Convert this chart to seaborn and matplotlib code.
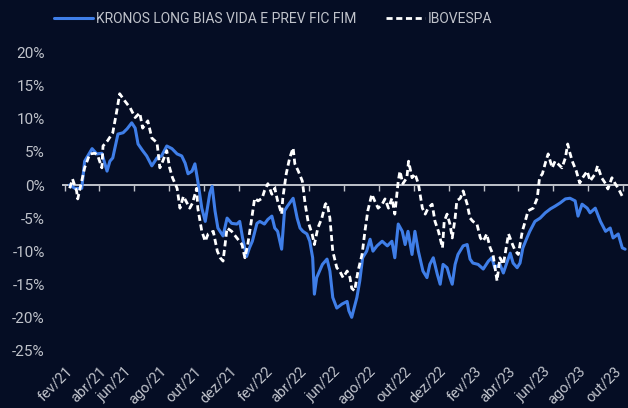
import matplotlib
matplotlib.use("Agg")
import matplotlib.pyplot as plt
import matplotlib.dates as mdates
from matplotlib.ticker import FuncFormatter
import pandas as pd
import seaborn as sns

# Data (cumulative return, %)
kronos_dates = [
    "2021-02-09", "2021-02-18", "2021-03-02", "2021-03-07", "2021-03-20", "2021-03-28",
    "2021-04-06", "2021-04-15", "2021-04-20", "2021-04-25", "2021-05-04", "2021-05-13",
    "2021-05-20", "2021-05-28", "2021-06-03", "2021-06-08", "2021-06-16", "2021-06-23",
    "2021-07-02", "2021-07-11", "2021-07-19", "2021-07-28", "2021-08-06", "2021-08-15",
    "2021-08-23", "2021-08-29", "2021-09-03", "2021-09-10", "2021-09-15", "2021-09-20",
    "2021-09-27", "2021-10-03", "2021-10-11", "2021-10-15", "2021-10-20", "2021-10-25",
    "2021-11-03", "2021-11-10", "2021-11-18", "2021-11-27", "2021-12-02", "2021-12-07",
    "2021-12-14", "2021-12-19", "2021-12-24", "2022-01-01", "2022-01-06", "2022-01-14",
    "2022-01-20", "2022-01-27", "2022-02-01", "2022-02-06", "2022-02-13", "2022-02-18",
    "2022-02-23", "2022-03-05", "2022-03-12", "2022-03-17", "2022-03-22", "2022-03-29",
    "2022-04-03", "2022-04-08", "2022-04-11", "2022-04-15", "2022-04-20", "2022-04-25",
    "2022-05-03", "2022-05-08", "2022-05-13", "2022-05-20", "2022-05-29", "2022-06-07",
    "2022-06-10", "2022-06-15", "2022-06-24", "2022-06-29", "2022-07-04", "2022-07-11",
    "2022-07-17", "2022-07-22", "2022-07-29", "2022-08-07", "2022-08-16", "2022-08-24",
    "2022-08-29", "2022-09-04", "2022-09-11", "2022-09-16", "2022-09-21", "2022-09-28",
    "2022-10-03", "2022-10-09", "2022-10-17", "2022-10-24", "2022-10-29", "2022-11-04",
    "2022-11-11", "2022-11-16", "2022-11-21", "2022-11-28", "2022-12-03", "2022-12-07",
    "2022-12-12", "2022-12-17", "2022-12-26", "2023-01-02", "2023-01-07", "2023-01-12",
    "2023-01-21", "2023-01-30", "2023-02-08", "2023-02-14", "2023-02-19", "2023-02-28",
    "2023-03-06", "2023-03-13", "2023-03-18", "2023-03-23", "2023-03-30", "2023-04-04",
    "2023-04-09", "2023-04-16", "2023-04-21", "2023-04-30", "2023-05-09", "2023-05-18",
    "2023-05-27", "2023-06-04", "2023-06-13", "2023-06-22", "2023-06-30", "2023-07-09",
    "2023-07-14", "2023-07-21", "2023-07-30", "2023-08-04", "2023-08-13", "2023-08-22",
    "2023-08-31", "2023-09-08", "2023-09-13", "2023-09-22", "2023-09-29", "2023-10-04",
]
kronos_values = [
    0.0, -0.5, -0.5, 3.6, 5.5, 4.7,
    4.8, 2.1, 3.6, 4.1, 7.7, 7.9,
    8.5, 9.4, 8.6, 6.2, 5.2, 4.4,
    2.9, 4.1, 4.4, 5.9, 5.5, 4.7,
    4.4, 3.3, 1.7, 2.1, 3.2, 0.6,
    -3.5, -5.5, -1.2, -0.2, -3.9, -6.5,
    -7.7, -5.0, -5.8, -5.9, -5.5, -8.0,
    -10.8, -9.5, -8.5, -5.8, -5.5, -5.9,
    -5.2, -4.7, -6.5, -7.0, -9.7, -3.9,
    -3.2, -2.0, -5.0, -6.5, -7.0, -7.4,
    -8.5, -11.0, -16.5, -14.0, -13.0, -12.0,
    -11.2, -13.0, -17.0, -18.6, -18.0, -17.6,
    -19.0, -20.0, -17.0, -14.5, -11.0, -10.0,
    -8.2, -10.0, -9.2, -8.5, -9.2, -8.5,
    -11.0, -5.9, -7.0, -9.0, -7.0, -10.5,
    -7.0, -10.0, -13.0, -14.0, -12.0, -11.0,
    -13.5, -15.0, -12.0, -12.5, -14.0, -15.0,
    -12.0, -10.5, -9.2, -9.0, -11.2, -11.8,
    -12.0, -12.7, -11.5, -11.0, -12.5, -12.0,
    -13.3, -11.5, -10.3, -11.8, -12.5, -11.8,
    -9.5, -8.0, -7.0, -5.5, -5.0, -4.2,
    -3.6, -3.2, -2.7, -2.1, -2.0, -2.4,
    -4.7, -2.9, -3.5, -4.2, -3.5, -5.5,
    -7.0, -6.5, -8.0, -7.4, -9.5, -9.7,
]

ibov_dates = [
    "2021-02-09", "2021-02-14", "2021-02-21", "2021-02-23", "2021-03-02", "2021-03-07",
    "2021-03-16", "2021-03-25", "2021-03-30", "2021-04-06", "2021-04-08", "2021-04-16",
    "2021-04-25", "2021-05-02", "2021-05-07", "2021-05-16", "2021-05-25", "2021-06-03",
    "2021-06-11", "2021-06-16", "2021-06-25", "2021-07-02", "2021-07-11", "2021-07-16",
    "2021-07-21", "2021-07-28", "2021-08-02", "2021-08-07", "2021-08-15", "2021-08-20",
    "2021-08-26", "2021-09-01", "2021-09-06", "2021-09-11", "2021-09-18", "2021-09-20",
    "2021-09-27", "2021-10-03", "2021-10-08", "2021-10-17", "2021-10-24", "2021-10-29",
    "2021-11-03", "2021-11-10", "2021-11-18", "2021-11-27", "2021-12-06", "2021-12-11",
    "2021-12-16", "2021-12-23", "2021-12-28", "2022-01-03", "2022-01-10", "2022-01-14",
    "2022-01-20", "2022-01-27", "2022-02-01", "2022-02-06", "2022-02-13", "2022-02-15",
    "2022-02-21", "2022-02-27", "2022-03-05", "2022-03-08", "2022-03-14", "2022-03-21",
    "2022-03-26", "2022-03-31", "2022-04-07", "2022-04-11", "2022-04-17", "2022-04-24",
    "2022-04-30", "2022-05-03", "2022-05-08", "2022-05-13", "2022-05-20", "2022-05-25",
    "2022-05-31", "2022-06-07", "2022-06-12", "2022-06-15", "2022-06-20", "2022-06-26",
    "2022-07-03", "2022-07-08", "2022-07-13", "2022-07-20", "2022-07-25", "2022-07-31",
    "2022-08-07", "2022-08-12", "2022-08-18", "2022-08-24", "2022-08-29", "2022-09-04",
    "2022-09-07", "2022-09-12", "2022-09-19", "2022-09-22", "2022-09-28", "2022-10-03",
    "2022-10-09", "2022-10-16", "2022-10-21", "2022-10-26", "2022-11-02", "2022-11-07",
    "2022-11-13", "2022-11-20", "2022-11-23", "2022-11-28", "2022-12-03", "2022-12-07",
    "2022-12-12", "2022-12-15", "2022-12-21", "2022-12-26", "2023-01-02", "2023-01-07",
    "2023-01-12", "2023-01-19", "2023-01-25", "2023-01-30", "2023-02-05", "2023-02-11",
    "2023-02-16", "2023-02-23", "2023-02-28", "2023-03-06", "2023-03-15", "2023-03-22",
    "2023-03-27", "2023-04-01", "2023-04-08", "2023-04-13", "2023-04-18", "2023-04-27",
    "2023-05-04", "2023-05-08", "2023-05-13", "2023-05-18", "2023-05-23", "2023-05-30",
    "2023-06-04", "2023-06-09", "2023-06-16", "2023-06-22", "2023-06-26", "2023-06-30",
    "2023-07-04", "2023-07-11", "2023-07-17", "2023-07-22", "2023-07-30", "2023-08-04",
    "2023-08-13", "2023-08-17", "2023-08-24", "2023-08-31", "2023-09-04", "2023-09-11",
    "2023-09-16", "2023-09-22", "2023-09-29",
]
ibov_values = [
    -0.5, 0.9, -0.9, -2.1, 0.6, 2.6,
    4.7, 4.8, 4.4, 2.6, 5.9, 6.7,
    7.9, 11.2, 13.8, 12.7, 11.7, 10.2,
    10.9, 8.6, 9.7, 7.1, 6.4, 2.6,
    3.6, 5.2, 2.6, 1.1, -0.5, -3.5,
    -1.7, -2.7, -3.5, -2.7, -0.5, -3.5,
    -7.0, -8.5, -7.4, -7.0, -10.0, -11.0,
    -11.5, -6.5, -7.0, -8.0, -9.0, -11.0,
    -9.0, -5.0, -2.0, -2.4, -2.0, -0.9,
    0.2, -1.4, -0.5, -2.4, -4.4, -2.0,
    1.7, 4.1, 5.6, 3.2, 2.1, 0.6,
    -2.9, -5.5, -7.4, -9.0, -6.5, -5.0,
    -2.9, -2.7, -5.0, -10.0, -12.5, -13.0,
    -14.0, -13.0, -14.0, -15.6, -16.0, -13.0,
    -10.5, -7.0, -3.9, -1.4, -2.4, -3.5,
    -2.9, -2.1, -3.5, -2.0, -4.4, 0.6,
    2.1, 0.2, 1.1, 3.6, 1.1, 1.7,
    0.2, -3.5, -4.4, -3.5, -2.9, -5.5,
    -7.0, -9.5, -5.5, -4.4, -5.9, -8.0,
    -5.0, -2.4, -2.0, -0.9, -2.9, -5.0,
    -5.5, -5.9, -8.0, -8.5, -7.4, -9.5,
    -10.5, -14.5, -11.0, -12.0, -7.4, -9.0,
    -10.0, -10.5, -7.0, -5.5, -3.9, -3.5,
    -2.0, 1.1, 1.7, 3.3, 4.7, 2.6,
    3.6, 3.2, 2.6, 4.1, 6.2, 4.8,
    3.6, 2.1, 0.3, 1.1, 2.1, 0.6,
    1.7, 2.9, 1.1, 0.2, -0.6, 1.1,
    0.3, -0.5, -1.7,
]

series_names = ["KRONOS LONG BIAS VIDA E PREV FIC FIM", "IBOVESPA"]
month_names = ["jan", "fev", "mar", "abr", "mai", "jun", "jul", "ago", "set", "out", "nov", "dez"]

bg = "#050d24"
blue = "#3f7ee8"
grey = "#c0c3cb"

kronos = pd.DataFrame({"date": pd.to_datetime(kronos_dates), "value": [v / 100 for v in kronos_values]})
ibov = pd.DataFrame({"date": pd.to_datetime(ibov_dates), "value": [v / 100 for v in ibov_values]})

sns.set_style("dark")
plt.rcParams["font.family"] = ["Roboto", "DejaVu Sans"]

fig = plt.figure(figsize=(6.28, 4.08), dpi=100, facecolor=bg)
ax = fig.add_axes([0.100, 0.125, 0.900, 0.762])
ax.set_facecolor(bg)

sns.lineplot(data=kronos, x="date", y="value", ax=ax, color=blue, linewidth=2.2,
             label=series_names[0])
sns.lineplot(data=ibov, x="date", y="value", ax=ax, color="white", linewidth=2.0,
             linestyle=(0, (2.2, 1.3)), label=series_names[1])

ax.set_ylim(-0.26, 0.21)
ax.set_xlim(pd.Timestamp("2021-01-28"), pd.Timestamp("2023-10-09"))
ax.set_yticks([0.20, 0.15, 0.10, 0.05, 0.0, -0.05, -0.10, -0.15, -0.20, -0.25])
ax.yaxis.set_major_formatter(FuncFormatter(lambda v, p: f"{v * 100:.0f}%"))
ax.tick_params(axis="y", length=0, pad=13, labelcolor=grey, labelsize=11)
ax.set_xlabel("")
ax.set_ylabel("")
ax.grid(False)

for side in ["left", "right", "top"]:
    ax.spines[side].set_visible(False)
ax.spines["bottom"].set_position(("data", 0))
ax.spines["bottom"].set_color(grey)
ax.spines["bottom"].set_linewidth(1.4)
ax.spines["bottom"].set_zorder(1)

locator = mdates.MonthLocator(bymonth=[2, 4, 6, 8, 10, 12])
ax.xaxis.set_major_locator(locator)
ax.tick_params(axis="x", direction="out", length=4, width=1, color=grey,
               labelbottom=False, bottom=True)

# tick labels sit at the bottom of the plot
sec = ax.secondary_xaxis(0)
sec.xaxis.set_major_locator(mdates.MonthLocator(bymonth=[2, 4, 6, 8, 10, 12]))
sec.xaxis.set_major_formatter(FuncFormatter(
    lambda v, p: f"{month_names[mdates.num2date(v).month - 1]}/{mdates.num2date(v).strftime('%y')}"))
sec.spines["bottom"].set_visible(False)
sec.tick_params(axis="x", length=0, pad=5, labelcolor=grey, labelsize=10.5)
for lbl in sec.get_xticklabels():
    lbl.set_rotation(45)
    lbl.set_ha("right")
    lbl.set_rotation_mode("anchor")

leg = ax.legend(loc="center", bbox_to_anchor=(0.435, 0.953), bbox_transform=fig.transFigure,
                ncol=2, frameon=False, fontsize=10, handlelength=2.8, handletextpad=0.25,
                columnspacing=2.1)
for t in leg.get_texts():
    t.set_color(grey)

fig.savefig("out.png", dpi=100, facecolor=bg)
